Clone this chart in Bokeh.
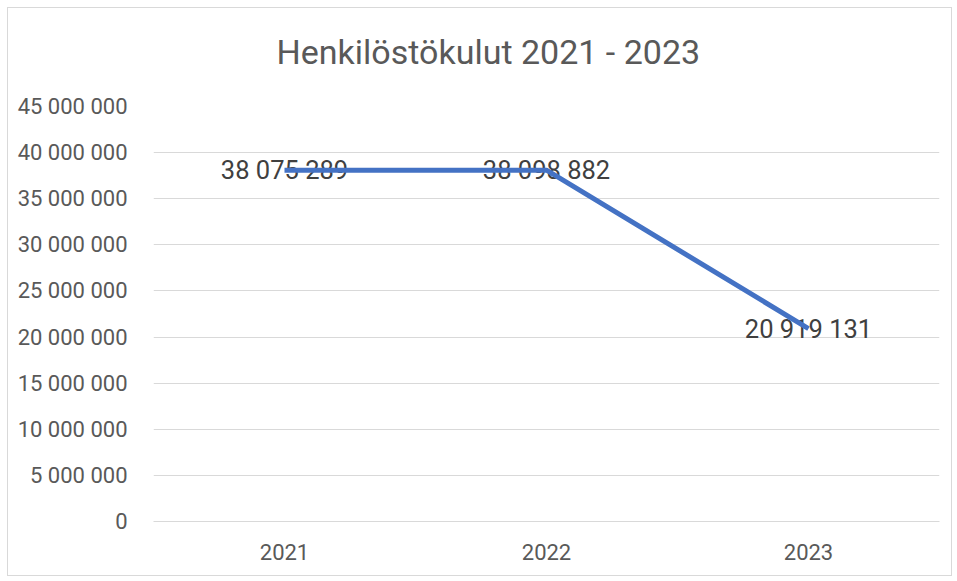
from bokeh.plotting import figure
from bokeh.models import ColumnDataSource, Range1d, FactorRange, CustomJSTickFormatter, FixedTicker, Title
from bokeh.core.properties import value
from bokeh.embed import file_html
from bokeh.resources import INLINE

# Data
years = ["2021", "2022", "2023"]
costs = [38075289, 38098882, 20919131]
cost_labels = ["38 075 289", "38 098 882", "20 919 131"]
y_ticks = [0, 5000000, 10000000, 15000000, 20000000, 25000000, 30000000, 35000000, 40000000, 45000000]
title_text = "Henkilöstökulut 2021 - 2023"

src = ColumnDataSource(dict(x=years, y=costs, lab=cost_labels))

p = figure(
    width=945, height=569,
    x_range=FactorRange(*years),
    y_range=Range1d(0, 45000000),
    output_backend="svg", toolbar_location=None,
    min_border_left=145, min_border_right=14, min_border_top=98, min_border_bottom=56,
    styles={"border": "1px solid #d9d9d9", "margin": "7px 0 0 7px"},
)
p.title = None
p.outline_line_color = None
p.background_fill_color = "white"
p.border_fill_color = "white"

# spacer between title and frame, then the title itself
pad = Title(text=" ", text_font_size="29px", standoff=0, text_color="white")
p.add_layout(pad, "above")
main_title = Title(text=title_text, align="left", offset=123, standoff=2,
                   text_font="Roboto", text_font_size="34px", text_font_style="normal",
                   text_color="#595959")
p.add_layout(main_title, "above")

# axes
p.yaxis.ticker = FixedTicker(ticks=y_ticks)
p.yaxis.formatter = CustomJSTickFormatter(code="return tick.toFixed(0).replace(/\\B(?=(\\d{3})+(?!\\d))/g, ' ');")
p.yaxis.axis_line_color = None
p.yaxis.major_tick_line_color = None
p.yaxis.minor_tick_line_color = None
p.yaxis.major_label_standoff = 20
p.yaxis.major_label_text_font = "Roboto"
p.yaxis.major_label_text_font_size = "22px"
p.yaxis.major_label_text_color = "#595959"

p.xaxis.axis_line_color = "#d9d9d9"
p.xaxis.major_tick_line_color = None
p.xaxis.minor_tick_line_color = None
p.xaxis.major_label_standoff = 16
p.xaxis.major_label_text_font = "Roboto"
p.xaxis.major_label_text_font_size = "22px"
p.xaxis.major_label_text_color = "#595959"

p.xgrid.grid_line_color = None
p.ygrid.ticker = FixedTicker(ticks=y_ticks)
p.ygrid.grid_line_color = "#d9d9d9"
p.ygrid.grid_line_width = 1

p.text(x="x", y="y", text="lab", source=src, text_align="center", text_baseline="middle",
       text_font=value("Roboto"), text_font_size="25.5px", text_color="#404040")
p.line(x="x", y="y", source=src, line_color="#4472C4", line_width=5)

open("out.html", "w").write(file_html(p, INLINE))
